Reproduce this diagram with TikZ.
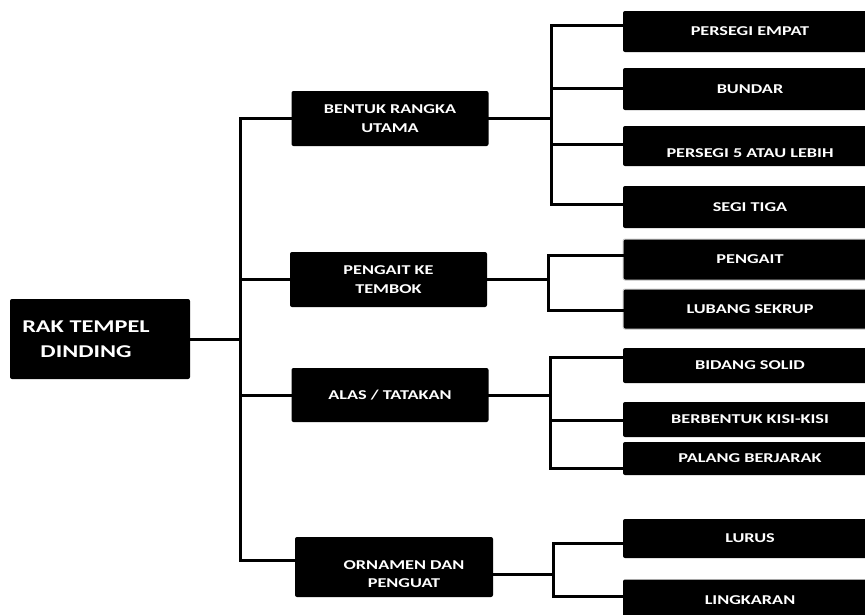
\documentclass[tikz,border=0pt]{standalone}
\usepackage{fontspec}
\setmainfont{Carlito}[FakeStretch=1.35,BoldFont={* Bold}]
\begin{document}
\begin{tikzpicture}[x=1pt,y=-1pt,
  box/.style={fill=black,draw=none,rounded corners=2pt,inner sep=0pt,text=white,font=\bfseries,align=center},
  rootbox/.style={box,minimum width=180pt,minimum height=80pt},
  midbox/.style={box,minimum width=197pt,font=\fontsize{13.5}{19}\selectfont\bfseries},
  leafbox/.style={box,minimum width=254pt,font=\fontsize{13.5}{15}\selectfont\bfseries},
  rtxt/.style={text=white,font=\fontsize{18}{25}\selectfont\bfseries,align=center},
  mtxt/.style={text=white,font=\fontsize{13.5}{18}\selectfont\bfseries,align=center},
  conn/.style={draw=black,line width=3pt,line cap=rect}]
\useasboundingbox (0,0) rectangle (865,614);
% root
\node[rootbox,label={[rtxt,xshift=-14pt]center:{RAK TEMPEL\\DINDING}}] (root) at (100,339) {};
% level 1
\node[midbox,minimum height=55pt] (b1) at (390,118.5) {BENTUK RANGKA\\UTAMA};
\node[midbox,minimum height=55pt] (b2) at (388.5,279.5) {PENGAIT KE\\TEMBOK};
\node[midbox,minimum height=54pt] (b3) at (390,395) {ALAS / TATAKAN};
\node[midbox,minimum width=198pt,minimum height=60pt,label={[mtxt,xshift=10pt,yshift=-7pt]center:{ORNAMEN DAN\\PENGUAT}}] (b4) at (394,567) {};
% level 2
\node[leafbox,minimum height=41pt] (c11) at (750,31.5) {PERSEGI EMPAT};
\node[leafbox,minimum height=42pt] (c12) at (750,89) {BUNDAR};
\node[leafbox,minimum height=40pt,label={[leafbox,fill=none,minimum width=0pt,yshift=-7pt]center:PERSEGI 5 ATAU LEBIH}] (c13) at (750,146) {};
\node[leafbox,minimum height=42pt] (c14) at (750,207) {SEGI TIGA};
\node[leafbox,minimum height=41pt,draw=black!20,line width=1pt] (c21) at (750,259.5) {PENGAIT};
\node[leafbox,minimum height=40pt,draw=black!20,line width=1pt] (c22) at (750,309) {LUBANG SEKRUP};
\node[leafbox,minimum height=35pt] (c31) at (750,365.5) {BIDANG SOLID};
\node[leafbox,minimum height=35pt] (c32) at (750,419.5) {BERBENTUK KISI-KISI};
\node[leafbox,minimum height=33pt] (c33) at (750,458.5) {PALANG BERJARAK};
\node[leafbox,minimum height=39pt] (c41) at (750,538.5) {LURUS};
\node[leafbox,minimum height=41pt] (c42) at (750,600) {LINGKARAN};
% trunk
\coordinate (tt) at (240,118.5);
\coordinate (tb) at (240,560);
\draw[conn] (tt) -- (tb);
\draw[conn] (root.east) -- (root.east -| tt);
\draw[conn] (b1.west) -- (b1.west -| tt);
\draw[conn] (b2.west) -- (b2.west -| tt);
\draw[conn] (b3.west) -- (b3.west -| tt);
\draw[conn] ([yshift=7pt]b4.west) -- (tb);
% sub-trunk 1
\coordinate (s1a) at (551,25);
\coordinate (s1b) at (551,88);
\coordinate (s1c) at (551,144);
\coordinate (s1d) at (551,204);
\draw[conn] (s1a) -- (s1d);
\draw[conn] (b1.east) -- (b1.east -| s1a);
\draw[conn] (s1a) -- (s1a -| c11.west);
\draw[conn] (s1b) -- (s1b -| c12.west);
\draw[conn] (s1c) -- (s1c -| c13.west);
\draw[conn] (s1d) -- (s1d -| c14.west);
% sub-trunk 2
\coordinate (s2a) at (548,255);
\coordinate (s2b) at (548,310);
\draw[conn] (s2a) -- (s2b);
\draw[conn] (b2.east) -- (b2.east -| s2a);
\draw[conn] (s2a) -- (s2a -| c21.west);
\draw[conn] (s2b) -- (s2b -| c22.west);
% sub-trunk 3
\coordinate (s3a) at (550,357);
\coordinate (s3b) at (550,420);
\coordinate (s3c) at (550,468);
\draw[conn] (s3a) -- (s3c);
\draw[conn] (b3.east) -- (b3.east -| s3a);
\draw[conn] (s3a) -- (s3a -| c31.west);
\draw[conn] (s3b) -- (s3b -| c32.west);
\draw[conn] (s3c) -- (s3c -| c33.west);
% sub-trunk 4
\coordinate (s4a) at (553,543);
\coordinate (s4b) at (553,596);
\draw[conn] (s4a) -- (s4b);
\draw[conn] ([yshift=-7pt]b4.east) -- ([yshift=-7pt]b4.east -| s4a);
\draw[conn] (s4a) -- (s4a -| c41.west);
\draw[conn] (s4b) -- (s4b -| c42.west);
\end{tikzpicture}
\end{document}
